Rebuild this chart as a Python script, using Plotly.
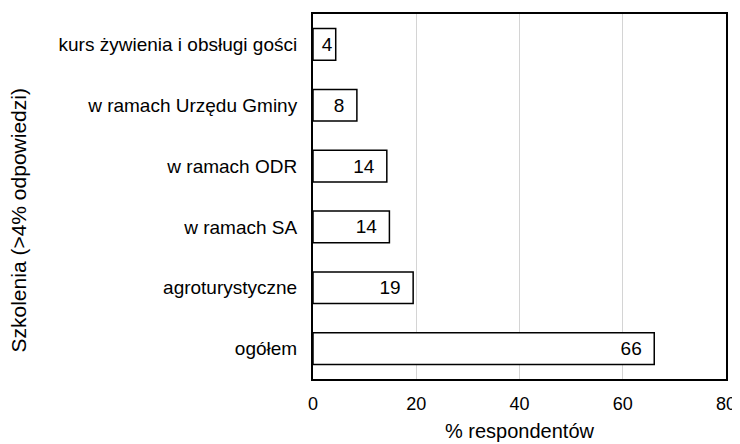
import plotly.graph_objects as go

categories = ["ogółem", "agroturystyczne", "w ramach SA", "w ramach ODR",
              "w ramach Urzędu Gminy", "kurs żywienia i obsługi gości"]
values = [66.1, 19.4, 14.8, 14.3, 8.5, 4.4]
bar_labels = ["66", "19", "14", "14", "8", "4"]
x_ticks = [0, 20, 40, 60, 80]

FONT = "Liberation Sans, Arial, sans-serif"

# extra right padding inside bars that are wide enough (like the reference)
label_templates = ["%{text}\u2002"] * 5 + ["%{text}"]

fig = go.Figure(go.Bar(
    x=values, y=categories, orientation="h",
    marker=dict(color="white", line=dict(color="black", width=1.5)),
    text=bar_labels, texttemplate=label_templates,
    textposition="inside", insidetextanchor="end",
    textfont=dict(family=FONT, size=19, color="black"),
    constraintext="none", cliponaxis=False, hoverinfo="x+y",
))

# page body has an 8px margin, so the figure is sized/offset to compensate
fig.update_layout(
    width=732, height=436,
    margin=dict(l=305, r=12, t=4, b=65),
    paper_bgcolor="white", plot_bgcolor="white",
    bargap=0.48, showlegend=False,
    font=dict(family=FONT, size=19, color="black"),
    xaxis=dict(range=[0, 80], tickvals=x_ticks, showgrid=True,
               gridcolor="#d4d4d4", gridwidth=1, zeroline=False,
               showline=True, linecolor="black", linewidth=2, mirror=True,
               ticks="", ticklabelstandoff=7,
               tickfont=dict(family=FONT, size=18, color="black")),
    yaxis=dict(categoryorder="array", categoryarray=categories,
               showgrid=False, zeroline=False,
               showline=True, linecolor="black", linewidth=2, mirror=True,
               ticks="", ticklabelstandoff=10,
               tickfont=dict(family=FONT, size=19, color="black")),
    annotations=[
        dict(text="% respondentów", xref="paper", yref="paper",
             x=0.5, y=-0.143, xanchor="center", yanchor="middle",
             showarrow=False, font=dict(family=FONT, size=20, color="black")),
        dict(text="Szkolenia (>4% odpowiedzi)", xref="paper", yref="paper",
             x=-0.713, y=0.433, xanchor="center", yanchor="middle", textangle=-90,
             showarrow=False, font=dict(family=FONT, size=21, color="black")),
    ],
)

fig.write_html("out.html")
